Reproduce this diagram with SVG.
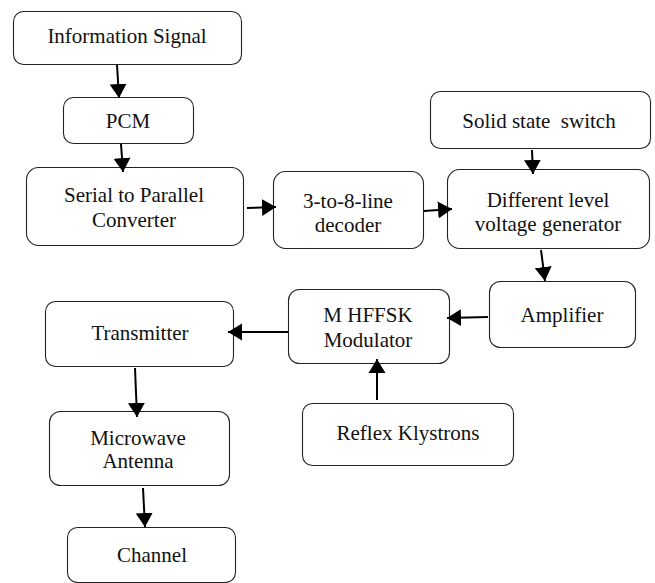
<svg xmlns="http://www.w3.org/2000/svg" width="655" height="583" viewBox="0 0 655 583">
  <style>
    .box { fill: #ffffff; stroke: #222222; stroke-width: 1.1; }
    .lbl { font-family: 'Liberation Serif', 'Times New Roman', serif; font-size: 21px; fill: #111111; text-anchor: middle; }
    .edge { stroke: #000000; stroke-width: 2; fill: none; marker-end: url(#head); }
  </style>
  <defs>
    <!-- filled triangular arrowhead, tip at the line end -->
    <marker id="head" markerUnits="userSpaceOnUse" markerWidth="15" markerHeight="18" viewBox="0 0 15 18" refX="14" refY="9" orient="auto">
      <path d="M0,0.5 L14,9 L0,17.5 Z" fill="#000000"/>
    </marker>
  </defs>
  <rect width="655" height="583" fill="#ffffff"/>

  <g id="info-signal">
    <rect class="box" x="13.5" y="11.5" width="228" height="53" rx="10"/>
    <text class="lbl" x="127" y="43">Information Signal</text>
  </g>
  <g id="pcm">
    <rect class="box" x="63.5" y="97.5" width="130" height="46" rx="10"/>
    <text class="lbl" x="128" y="128">PCM</text>
  </g>
  <g id="serial-parallel">
    <rect class="box" x="26.5" y="167.5" width="217" height="78" rx="12"/>
    <text class="lbl" x="134" y="202">Serial to Parallel</text>
    <text class="lbl" x="134" y="227">Converter</text>
  </g>
  <g id="decoder">
    <rect class="box" x="273.5" y="171.5" width="150" height="77" rx="12"/>
    <text class="lbl" x="348" y="208">3-to-8-line</text>
    <text class="lbl" x="348" y="232">decoder</text>
  </g>
  <g id="solid-state-switch">
    <rect class="box" x="430.5" y="91.5" width="220" height="57" rx="10"/>
    <text class="lbl" x="539" y="128" xml:space="preserve">Solid state  switch</text>
  </g>
  <g id="voltage-generator">
    <rect class="box" x="447.5" y="169.5" width="202" height="79" rx="12"/>
    <text class="lbl" x="548" y="207">Different level</text>
    <text class="lbl" x="548" y="231">voltage generator</text>
  </g>
  <g id="amplifier">
    <rect class="box" x="489.5" y="281.5" width="146" height="66" rx="11"/>
    <text class="lbl" x="562" y="322">Amplifier</text>
  </g>
  <g id="modulator">
    <rect class="box" x="288.5" y="289.5" width="161" height="74" rx="11"/>
    <text class="lbl" x="368" y="322">M HFFSK</text>
    <text class="lbl" x="368" y="347">Modulator</text>
  </g>
  <g id="reflex-klystrons">
    <rect class="box" x="302.5" y="403.5" width="211" height="62" rx="10"/>
    <text class="lbl" x="408" y="440">Reflex Klystrons</text>
  </g>
  <g id="transmitter">
    <rect class="box" x="45.5" y="301.5" width="188" height="65" rx="10"/>
    <text class="lbl" x="140" y="340">Transmitter</text>
  </g>
  <g id="microwave-antenna">
    <rect class="box" x="49.5" y="411.5" width="180" height="74" rx="11"/>
    <text class="lbl" x="138" y="445">Microwave</text>
    <text class="lbl" x="138" y="468">Antenna</text>
  </g>
  <g id="channel">
    <rect class="box" x="67.5" y="527.5" width="168" height="55" rx="10"/>
    <text class="lbl" x="152" y="562">Channel</text>
  </g>

  <g id="connectors">
    <line class="edge" x1="117" y1="65" x2="119" y2="98"/>
    <line class="edge" x1="121" y1="144" x2="123" y2="172"/>
    <line class="edge" x1="247" y1="208" x2="276" y2="207"/>
    <line class="edge" x1="424" y1="211" x2="452" y2="209"/>
    <line class="edge" x1="532" y1="150" x2="533" y2="174"/>
    <line class="edge" x1="541" y1="250" x2="545" y2="281"/>
    <line class="edge" x1="488" y1="317" x2="447" y2="318"/>
    <line class="edge" x1="288" y1="332" x2="228" y2="332"/>
    <line class="edge" x1="377" y1="400" x2="377" y2="359"/>
    <line class="edge" x1="135" y1="368" x2="137" y2="417"/>
    <line class="edge" x1="143" y1="488" x2="145" y2="527"/>
  </g>
</svg>
